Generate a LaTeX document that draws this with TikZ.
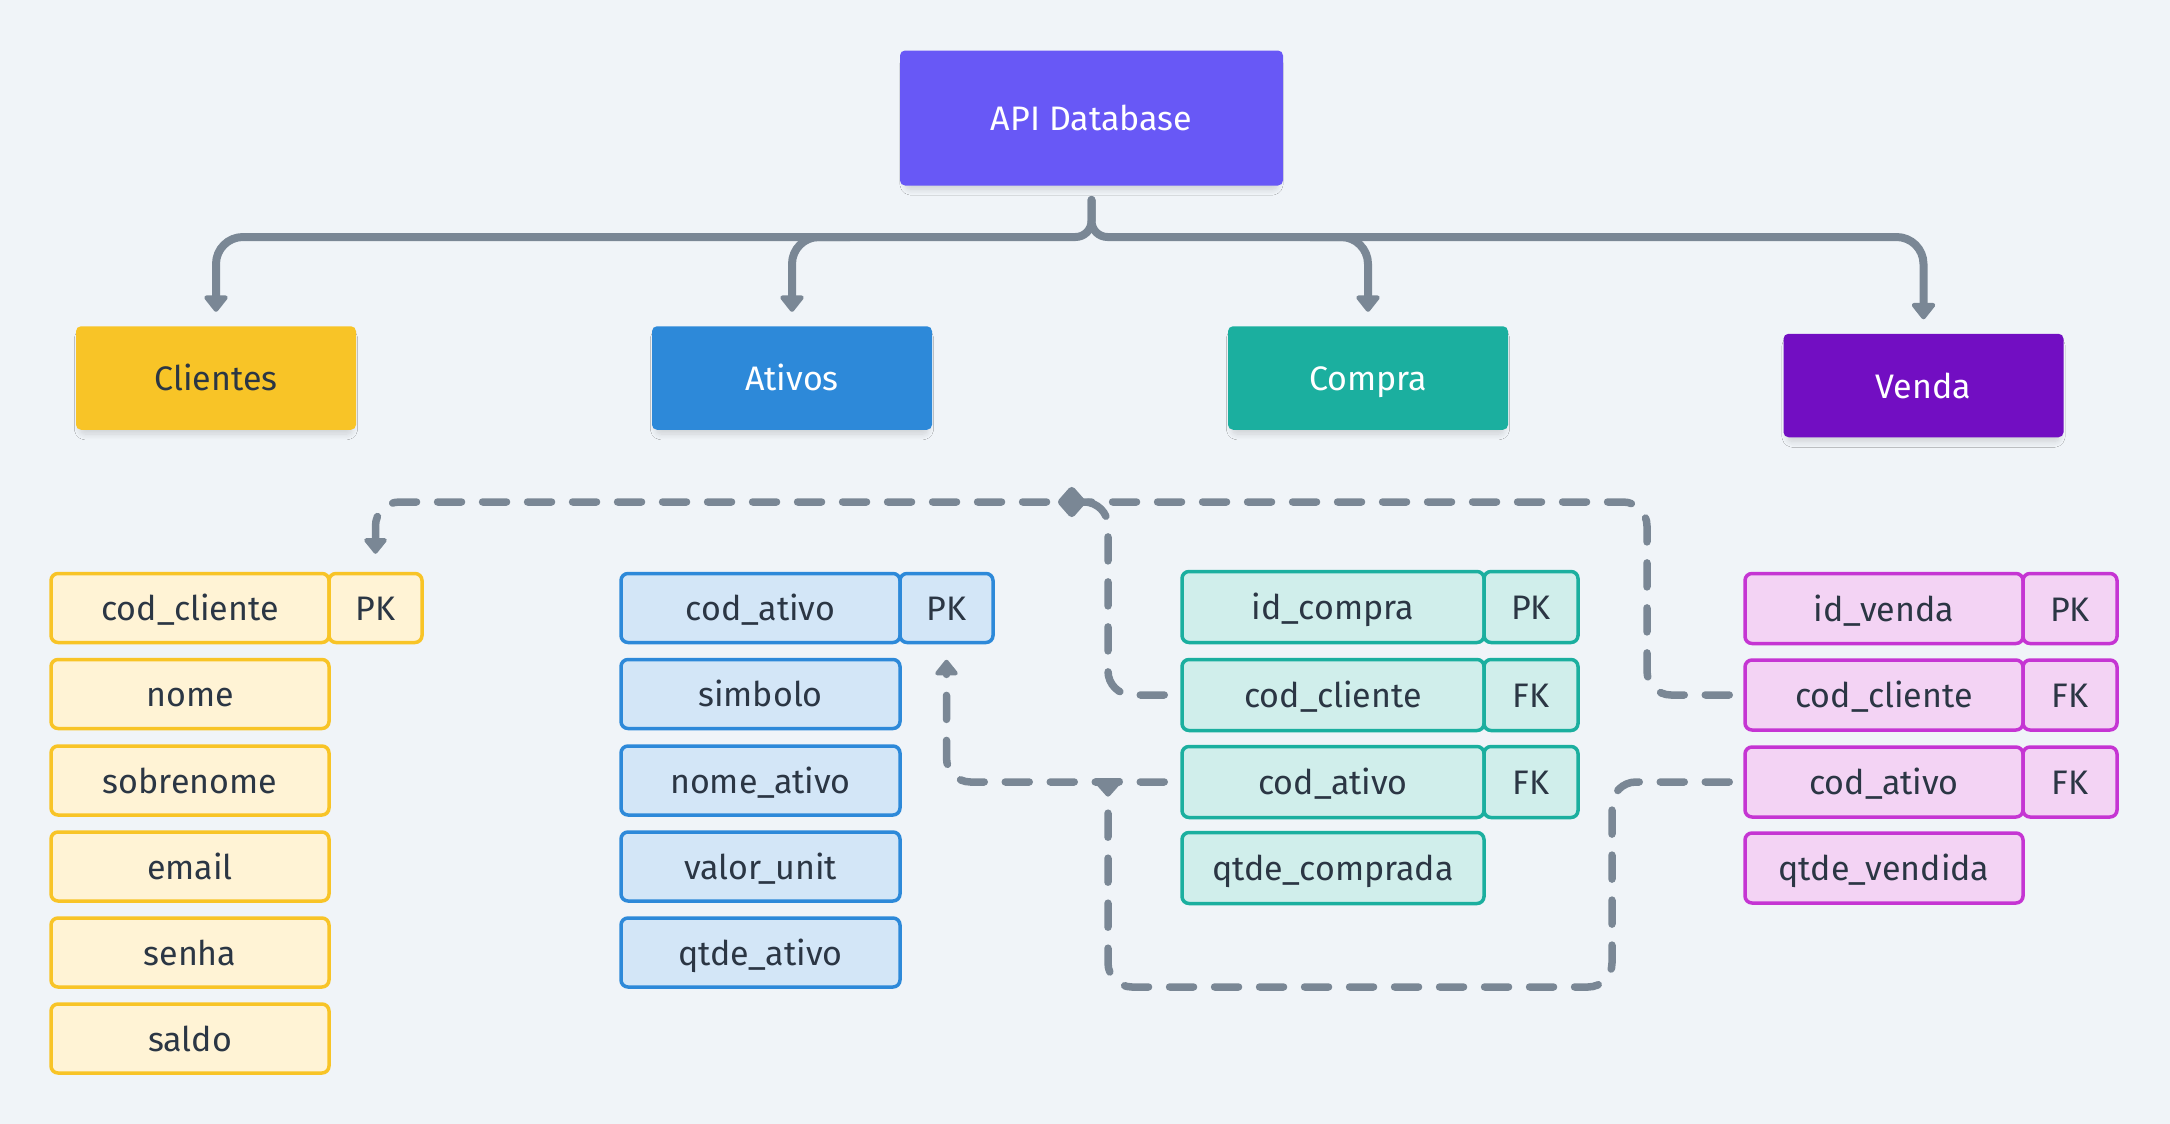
\documentclass[tikz,border=0pt]{standalone}
\usepackage{fontspec}
\setmainfont{Fira Sans}
\usetikzlibrary{arrows.meta,shadows.blur}
\definecolor{bg}{HTML}{F0F4F8}
\definecolor{apic}{HTML}{6858F6}
\definecolor{clic}{HTML}{F8C427}
\definecolor{atic}{HTML}{2D89D9}
\definecolor{comc}{HTML}{1BAF9F}
\definecolor{venc}{HTML}{720EC2}
\definecolor{clif}{HTML}{FFF3D5}
\definecolor{atif}{HTML}{D3E6F7}
\definecolor{comf}{HTML}{D0EEEB}
\definecolor{venf}{HTML}{F3D3F4}
\definecolor{venb}{HTML}{C535D3}
\definecolor{linec}{HTML}{7A8795}
\definecolor{txt}{HTML}{2B3644}
\begin{document}
\begin{tikzpicture}[x=0.5pt,y=-0.5pt,
  txtfont/.style={font=\fontsize{17}{20}\selectfont, text height=12.5pt, text depth=0pt},
  hdr/.style={txtfont, rounded corners=2.5pt, minimum width=140pt, minimum height=51.75pt, inner sep=0pt,
    blur shadow={shadow xshift=0pt, shadow yshift=-3pt, shadow blur radius=3pt, shadow blur steps=8, shadow opacity=14, shadow scale=0.97}},
  fld/.style={txtfont, text=txt, rounded corners=3.5pt, line width=1.75pt, minimum height=34.5pt, inner sep=0pt},
  clifld/.style={fld, draw=clic, fill=clif},
  atifld/.style={fld, draw=atic, fill=atif},
  comfld/.style={fld, draw=comc, fill=comf, minimum height=35.5pt},
  venfld/.style={fld, draw=venb, fill=venf, minimum height=35pt},
  tree/.style={draw=linec, line width=4pt, line cap=round, -{Triangle[width=13.5pt,length=9pt,round]}},
  fk/.style={draw=linec, line width=3.75pt, line cap=round, dash pattern=on 12pt off 10.5pt, rounded corners=12pt},
  uptip/.style={-{Triangle[width=13pt,length=8.5pt,round]}}
]
\path[use as bounding box, fill=bg] (0,0) rectangle (2170,1124);

% header nodes
\node[hdr, fill=apic, text=white, minimum width=191.5pt, minimum height=67.5pt] (api) at (1091.5,118) {API Database};
\node[hdr, fill=clic, text=txt] (clientes) at (216,378) {Clientes};
\node[hdr, fill=atic, text=white] (ativos) at (792,378) {Ativos};
\node[hdr, fill=comc, text=white] (compra) at (1368,378) {Compra};
\node[hdr, fill=venc, text=white] (venda) at (1923.5,385.5) {Venda};

% Clientes table
\node[clifld, minimum width=139pt] (c1) at (190,608) {cod\_cliente};
\node[clifld, minimum width=46.5pt] (cpk) at (375.5,608) {PK};
\node[clifld, minimum width=139pt] (c2) at (190,694) {nome};
\node[clifld, minimum width=139pt] (c3) at (190,780.5) {sobrenome};
\node[clifld, minimum width=139pt] (c4) at (190,866.5) {email};
\node[clifld, minimum width=139pt] (c5) at (190,952.5) {senha};
\node[clifld, minimum width=139pt] (c6) at (190,1038.5) {saldo};

% Ativos table
\node[atifld, minimum width=139.5pt] (a1) at (760.5,608) {cod\_ativo};
\node[atifld, minimum width=46.5pt] (apk) at (946.5,608) {PK};
\node[atifld, minimum width=139.5pt] (a2) at (760.5,694) {simbolo};
\node[atifld, minimum width=139.5pt] (a3) at (760.5,780.5) {nome\_ativo};
\node[atifld, minimum width=139.5pt] (a4) at (760.5,866.5) {valor\_unit};
\node[atifld, minimum width=139.5pt] (a5) at (760.5,952.5) {qtde\_ativo};

% Compra table
\node[comfld, minimum width=151pt] (m1) at (1333,607) {id\_compra};
\node[comfld, minimum width=47pt] (mpk) at (1531,607) {PK};
\node[comfld, minimum width=151pt] (m2) at (1333,695) {cod\_cliente};
\node[comfld, minimum width=47pt] (mfk1) at (1531,695) {FK};
\node[comfld, minimum width=151pt] (m3) at (1333,782) {cod\_ativo};
\node[comfld, minimum width=47pt] (mfk2) at (1531,782) {FK};
\node[comfld, minimum width=151pt] (m4) at (1333,868) {qtde\_comprada};

% Venda table
\node[venfld, minimum width=139pt] (v1) at (1884,608.5) {id\_venda};
\node[venfld, minimum width=47pt] (vpk) at (2070,608.5) {PK};
\node[venfld, minimum width=139pt] (v2) at (1884,695) {cod\_cliente};
\node[venfld, minimum width=47pt] (vfk1) at (2070,695) {FK};
\node[venfld, minimum width=139pt] (v3) at (1884,782) {cod\_ativo};
\node[venfld, minimum width=47pt] (vfk2) at (2070,782) {FK};
\node[venfld, minimum width=139pt] (v4) at (1884,868) {qtde\_vendida};

% tree connectors
\coordinate (busA) at (850,237);
\coordinate (busC) at (1310,237);
\draw[tree, shorten <=7pt, shorten >=7pt] (api.south) [rounded corners=8pt] -- (1091.5,237) [rounded corners=13.5pt] -- (216,237) -- (clientes.north);
\draw[tree, shorten <=7pt, shorten >=7pt] (api.south) [rounded corners=8pt] -- (1091.5,237) [rounded corners=13.5pt] -- (1923.5,237) -- (venda.north);
\draw[tree, rounded corners=13.5pt, shorten >=7pt] (busA) -- (792,237) -- (ativos.north);
\draw[tree, rounded corners=13.5pt, shorten >=7pt] (busC) -- (1368,237) -- (compra.north);

% foreign key connectors
\draw[fk, uptip, shorten <=7pt, shorten >=9pt] (v2.west) -- (1647,695) -- (1647,502) -- (375.5,502) -- (cpk.north);
\draw[fk, -{Diamond[width=17pt,length=15pt,round]}, shorten <=8pt] (m2.west) -- (1108,695) -- (1108,502) -- (1058,502);
\draw[fk, uptip, shorten <=8pt, shorten >=7.75pt] (m3.west) -- (946.5,782) -- (apk.south);
\coordinate (join) at (1108,778);
\draw[fk, -{Triangle[reversed,width=17pt,length=10pt,round]}, shorten <=7pt] (v3.west) -- (1612,782) -- (1612,987) -- (1108,987) -- (join);
\end{tikzpicture}
\end{document}
